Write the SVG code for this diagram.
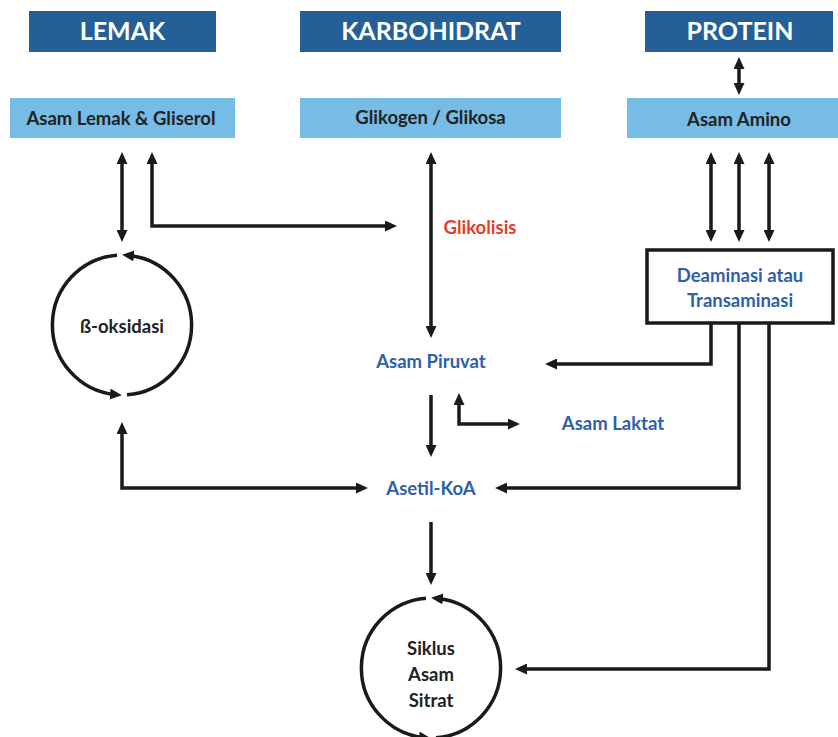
<svg xmlns="http://www.w3.org/2000/svg" width="838" height="737" viewBox="0 0 838 737">
<style>
.hdr{fill:#245F98}
.sub{fill:#76BCE5}
.ht{font-family:Lato,"Open Sans",sans-serif;font-weight:bold;font-size:25px;fill:#ffffff;text-anchor:middle}
.st{font-family:Lato,"Open Sans",sans-serif;font-weight:bold;font-size:18.5px;fill:#222222;text-anchor:middle}
.bt{font-family:Lato,"Open Sans",sans-serif;font-weight:bold;font-size:18.5px;fill:#2E5FA8;text-anchor:middle}
.rt{font-family:Lato,"Open Sans",sans-serif;font-weight:bold;font-size:18.5px;fill:#E03E28;text-anchor:middle}
.ln{fill:none;stroke:#1a1a1a;stroke-width:3.5}
.a1{marker-end:url(#ah)}
.a2{marker-start:url(#ah);marker-end:url(#ah)}
</style>
<defs>
<marker id="ah" markerUnits="userSpaceOnUse" markerWidth="12" markerHeight="11" refX="5" refY="5.5" orient="auto-start-reverse" viewBox="0 0 12 11">
<path d="M0,0 L12,5.5 L0,11 z" fill="#1a1a1a"/>
</marker>
</defs>
<g id="lemak"><rect class="hdr" x="29" y="11" width="187" height="41"/><text class="ht" x="122.5" y="40">LEMAK</text></g>
<g id="karbohidrat"><rect class="hdr" x="300" y="11" width="261" height="41"/><text class="ht" x="431" y="40">KARBOHIDRAT</text></g>
<g id="protein"><rect class="hdr" x="645" y="11" width="188" height="41"/><text class="ht" x="740" y="40">PROTEIN</text></g>
<g id="asam-lemak"><rect class="sub" x="10" y="98" width="225" height="40"/><text class="st" x="121" y="125">Asam Lemak &amp; Gliserol</text></g>
<g id="glikogen"><rect class="sub" x="300" y="98" width="261" height="40"/><text class="st" x="430.5" y="124">Glikogen / Glikosa</text></g>
<g id="asam-amino"><rect class="sub" x="627" y="98" width="211" height="40"/><text class="st" x="739" y="126">Asam Amino</text></g>
<g id="deaminasi"><rect x="647" y="250" width="186" height="73" fill="#ffffff" stroke="#1a1a1a" stroke-width="3.5"/><text class="bt" x="740" y="282">Deaminasi atau</text><text class="bt" x="740" y="307">Transaminasi</text></g>
<g id="glikolisis"><text class="rt" x="480" y="234">Glikolisis</text></g>
<g id="asam-piruvat"><text class="bt" x="431" y="368">Asam Piruvat</text></g>
<g id="asam-laktat"><text class="bt" x="613" y="430">Asam Laktat</text></g>
<g id="asetil-koa"><text class="bt" x="431" y="495">Asetil-KoA</text></g>
<g id="beta-oksidasi">
<path class="ln a1" d="M127,394.8 A70,70 0 0 0 129,255.4"/>
<path class="ln a1" d="M117,255.2 A70,70 0 0 0 115,394.6"/>
<text class="st" x="122" y="333">ß-oksidasi</text>
</g>
<g id="siklus">
<path class="ln a1" d="M436,737.8 A70,70 0 0 0 438,598.4"/>
<path class="ln a1" d="M426,598.2 A70,70 0 0 0 424,737.6"/>
<text class="st" x="431" y="655">Siklus</text>
<text class="st" x="431" y="681">Asam</text>
<text class="st" x="431" y="707">Sitrat</text>
</g>
<g id="connectors">
<path class="ln a2" d="M122,159 L122,235"/>
<path class="ln a2" d="M152,159 L152,226 L390,226"/>
<path class="ln a2" d="M431,159 L431,331"/>
<path class="ln a2" d="M739,64 L739,88"/>
<path class="ln a2" d="M711,159 L711,235"/>
<path class="ln a2" d="M739,159 L739,235"/>
<path class="ln a2" d="M769,159 L769,235"/>
<path class="ln a1" d="M711,323 L711,364 L552,364"/>
<path class="ln a1" d="M431,395 L431,450"/>
<path class="ln a2" d="M459,400 L459,424 L513,424"/>
<path class="ln a1" d="M739,323 L739,488 L502,488"/>
<path class="ln a2" d="M122,429 L122,488 L361,488"/>
<path class="ln a1" d="M431,522 L431,578"/>
<path class="ln a1" d="M769,323 L769,669 L522,669"/>
</g>
</svg>
